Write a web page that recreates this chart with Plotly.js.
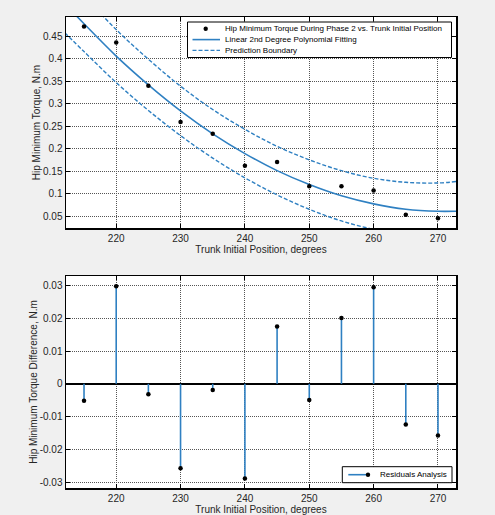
<!DOCTYPE html>
<html>
<head>
<meta charset="utf-8">
<script src="https://cdn.plot.ly/plotly-3.0.1.min.js"></script>
<style>
  html, body { margin: 0; padding: 0; background: #f0f0f0; }
  #chart { width: 495px; height: 515px; }
</style>
</head>
<body>
<div id="chart"></div>
<script>
// Measured hip minimum torque during phase 2 at each trunk initial position
const trunkPos = [215, 220, 225, 230, 235, 240, 245, 250, 255, 260, 265, 270];
const hipTorque = [0.472, 0.436, 0.340, 0.259, 0.233, 0.162, 0.170, 0.116, 0.116, 0.107, 0.053, 0.045];

// Second-degree polynomial fit and its prediction boundaries
const curveX = [212, 215, 220, 225, 230, 235, 240, 245, 250, 255, 260, 265, 270, 273];
const fitY = [0.523, 0.478, 0.406, 0.342, 0.284, 0.233, 0.189, 0.151, 0.120, 0.095, 0.077, 0.065, 0.0605, 0.0607];
const upperY = [0.588, 0.540, 0.465, 0.399, 0.339, 0.287, 0.243, 0.205, 0.175, 0.151, 0.134, 0.125, 0.1235, 0.127];
const lowerY = [0.458, 0.416, 0.347, 0.285, 0.229, 0.179, 0.135, 0.097, 0.065, 0.039, 0.020, 0.005, -0.0025, -0.005];

// Residuals of the fit
const residuals = [-0.0052, 0.0298, -0.0032, -0.0258, -0.0019, -0.0289, 0.0175, -0.0049, 0.0201, 0.0295, -0.0124, -0.0158];

// Legend labels
const fitLegend = [
  'Hip Minimum Torque During Phase 2 vs. Trunk Initial Position',
  'Linear 2nd Degree Polynomial Fitting',
  'Prediction Boundary'
];
const residualLegend = 'Residuals Analysis';

const W = 495, H = 515;
const M = { l: 66, r: 39, t: 17, b: 27 };
const blue = '#2f80c2';
const fontFam = '"Liberation Sans", Arial, sans-serif';
const textCol = '#262626';

// pixel position -> paper coordinate
const px = v => (v - M.l) / (W - M.l - M.r);
const py = v => (H - M.b - v) / (H - M.t - M.b);

// Stem segments: tip, baseline, gap
const stemX = [], stemY = [], stemColor = [];
trunkPos.forEach((x, i) => {
  stemX.push(x, x, null);
  stemY.push(residuals[i], 0, null);
  stemColor.push('#000000', 'rgba(0,0,0,0)', 'rgba(0,0,0,0)');
});

const traces = [
  {
    x: curveX, y: upperY, mode: 'lines', type: 'scatter',
    line: { color: blue, width: 1.4, dash: '4px,2px', shape: 'spline' },
    xaxis: 'x', yaxis: 'y'
  },
  {
    x: curveX, y: lowerY, mode: 'lines', type: 'scatter',
    line: { color: blue, width: 1.4, dash: '4px,2px', shape: 'spline' },
    xaxis: 'x', yaxis: 'y'
  },
  {
    x: curveX, y: fitY, mode: 'lines', type: 'scatter',
    line: { color: blue, width: 1.6, shape: 'spline' },
    xaxis: 'x', yaxis: 'y'
  },
  {
    x: trunkPos, y: hipTorque, mode: 'markers', type: 'scatter',
    marker: { color: '#000000', size: 4.5 },
    xaxis: 'x', yaxis: 'y'
  },
  {
    x: stemX, y: stemY, mode: 'lines+markers', type: 'scatter',
    line: { color: blue, width: 1.6 },
    marker: { color: stemColor, size: 4.5 },
    connectgaps: false,
    xaxis: 'x2', yaxis: 'y2'
  }
];

const axisCommon = {
  showline: true, linecolor: '#000000', linewidth: 1.5, mirror: 'ticks',
  ticks: 'inside', ticklen: 4, tickwidth: 1, tickcolor: '#000000',
  showgrid: true, gridcolor: '#555555', griddash: '1px,1px', gridwidth: 1,
  zeroline: false, automargin: false,
  tickfont: { family: fontFam, size: 10, color: textCol }
};
const titleFont = { family: fontFam, size: 10, color: textCol };

// Legend boxes drawn as shapes and text in paper space
const shapes = [];
const annotations = [];

// fit legend
const lg1 = { x0: 187.5, x1: 451.5, y0: 22, y1: 57.5, rows: [28.8, 39.6, 50.4] };
shapes.push({ type: 'rect', xref: 'paper', yref: 'paper', x0: px(lg1.x0), x1: px(lg1.x1), y0: py(lg1.y1), y1: py(lg1.y0),
  fillcolor: '#ffffff', line: { color: '#000000', width: 1 }, layer: 'above' });
shapes.push({ type: 'circle', xref: 'paper', yref: 'paper', xsizemode: 'pixel', ysizemode: 'pixel',
  xanchor: px(205.7), yanchor: py(lg1.rows[0]), x0: -2.2, x1: 2.2, y0: -2.2, y1: 2.2,
  fillcolor: '#000000', line: { width: 0 }, layer: 'above' });
shapes.push({ type: 'line', xref: 'paper', yref: 'paper', x0: px(192.5), x1: px(220), y0: py(lg1.rows[1]), y1: py(lg1.rows[1]),
  line: { color: blue, width: 1.6 }, layer: 'above' });
shapes.push({ type: 'line', xref: 'paper', yref: 'paper', x0: px(192.5), x1: px(220), y0: py(lg1.rows[2]), y1: py(lg1.rows[2]),
  line: { color: blue, width: 1.4, dash: '4px,2px' }, layer: 'above' });
fitLegend.forEach((t, i) => {
  annotations.push({ text: t, xref: 'paper', yref: 'paper', x: px(222.5), y: py(lg1.rows[i]),
    xanchor: 'left', yanchor: 'middle', showarrow: false,
    font: { family: fontFam, size: 8, color: '#000000' } });
});

// residual legend
const lg2 = { x0: 342.3, x1: 452, y0: 466.7, y1: 482.7, row: 474.7 };
shapes.push({ type: 'rect', xref: 'paper', yref: 'paper', x0: px(lg2.x0), x1: px(lg2.x1), y0: py(lg2.y1), y1: py(lg2.y0),
  fillcolor: '#ffffff', line: { color: '#000000', width: 1 }, layer: 'above' });
shapes.push({ type: 'line', xref: 'paper', yref: 'paper', x0: px(348.3), x1: px(368), y0: py(lg2.row), y1: py(lg2.row),
  line: { color: blue, width: 1.6 }, layer: 'above' });
shapes.push({ type: 'circle', xref: 'paper', yref: 'paper', xsizemode: 'pixel', ysizemode: 'pixel',
  xanchor: px(368), yanchor: py(lg2.row), x0: -2.2, x1: 2.2, y0: -2.2, y1: 2.2,
  fillcolor: '#000000', line: { width: 0 }, layer: 'above' });
annotations.push({ text: residualLegend, xref: 'paper', yref: 'paper', x: px(377.5), y: py(lg2.row),
  xanchor: 'left', yanchor: 'middle', showarrow: false,
  font: { family: fontFam, size: 8, color: '#000000' } });

const layout = {
  width: W, height: H,
  paper_bgcolor: '#f0f0f0', plot_bgcolor: '#ffffff',
  margin: M,
  showlegend: false,
  font: { family: fontFam, color: textCol },
  xaxis: Object.assign({}, axisCommon, {
    domain: [0, 1], anchor: 'y', range: [212.2, 272.8],
    tickvals: [220, 230, 240, 250, 260, 270],
    title: { text: 'Trunk Initial Position, degrees', font: titleFont, standoff: 3 }
  }),
  yaxis: Object.assign({}, axisCommon, {
    domain: [0.552, 1], anchor: 'x', range: [0.0233, 0.493],
    tickvals: [0.05, 0.1, 0.15, 0.2, 0.25, 0.3, 0.35, 0.4, 0.45],
    ticktext: ['0.05', '0.1', '0.15', '0.2', '0.25', '0.3', '0.35', '0.4', '0.45'],
    title: { text: 'Hip Minimum Torque, N.m', font: titleFont, standoff: 0 }
  }),
  xaxis2: Object.assign({}, axisCommon, {
    domain: [0, 1], anchor: 'y2', range: [212.2, 272.8],
    tickvals: [220, 230, 240, 250, 260, 270],
    title: { text: 'Trunk Initial Position, degrees', font: titleFont, standoff: 3 }
  }),
  yaxis2: Object.assign({}, axisCommon, {
    domain: [0, 0.45], anchor: 'x2', range: [-0.0318, 0.0329],
    tickvals: [-0.03, -0.02, -0.01, 0, 0.01, 0.02, 0.03],
    ticktext: ['-0.03', '-0.02', '-0.01', '0', '0.01', '0.02', '0.03'],
    zeroline: true, zerolinecolor: '#000000', zerolinewidth: 1.5,
    title: { text: 'Hip Minimum Torque Difference, N.m', font: titleFont, standoff: 0 }
  }),
  shapes: shapes,
  annotations: annotations
};

Plotly.newPlot('chart', traces, layout, { displayModeBar: false, staticPlot: true });
</script>
</body>
</html>
